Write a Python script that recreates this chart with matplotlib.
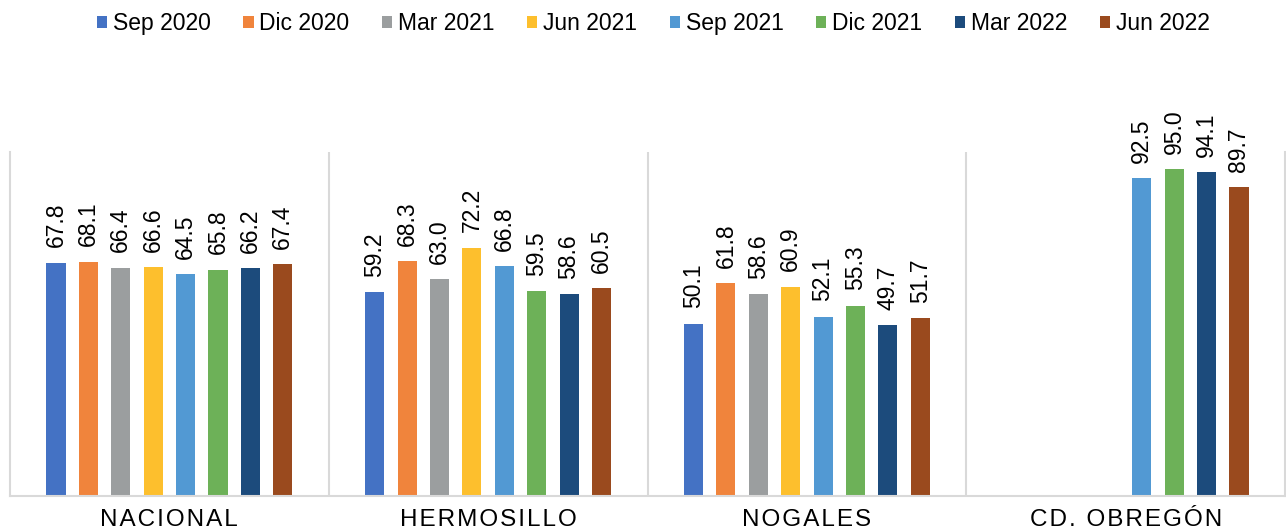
import matplotlib
matplotlib.use("Agg")
import matplotlib.pyplot as plt
import numpy as np

plt.rcParams['font.family'] = ['Liberation Sans', 'DejaVu Sans']

ciudades = ["NACIONAL", "HERMOSILLO", "NOGALES", "CD. OBREGÓN"]
periodos = ["Sep 2020", "Dic 2020", "Mar 2021", "Jun 2021",
            "Sep 2021", "Dic 2021", "Mar 2022", "Jun 2022"]
colores = ["#4472C4", "#F0843C", "#9B9E9F", "#FDBF2D",
           "#5299D3", "#6DB158", "#1C4B7C", "#9A4A1E"]

nacional = [67.8, 68.1, 66.4, 66.6, 64.5, 65.8, 66.2, 67.4]
hermosillo = [59.2, 68.3, 63.0, 72.2, 66.8, 59.5, 58.6, 60.5]
nogales = [50.1, 61.8, 58.6, 60.9, 52.1, 55.3, 49.7, 51.7]
obregon = [np.nan, np.nan, np.nan, np.nan, 92.5, 95.0, 94.1, 89.7]

datos = np.array([nacional, hermosillo, nogales, obregon])

fig = plt.figure(figsize=(12.86, 5.32), dpi=100)
ax = fig.add_axes([10 / 1286, 36 / 532, 1275 / 1286, 344 / 532])

x = np.arange(len(ciudades))
paso = 0.1016
ancho = 0.06
for k, per in enumerate(periodos):
    pos = x + (k - 3.5) * paso
    vals = datos[:, k]
    ax.bar(pos, np.nan_to_num(vals), width=ancho, color=colores[k], label=per)
    for xp, v in zip(pos, vals):
        if np.isnan(v):
            continue
        ax.annotate(f"{v:.1f}", (xp, v), xytext=(0, 11), textcoords="offset points",
                    rotation=90, ha="center", va="bottom", fontsize=16.5)

ax.set_xlim(-0.5, 3.5)
ax.set_ylim(0, 100)
ax.set_yticks([])

# separadores entre ciudades
for s in [0.5, 1.5, 2.5]:
    ax.axvline(s, color="#D9D9D9", lw=1.5, zorder=0)
for lado in ["left", "right", "bottom"]:
    ax.spines[lado].set_color("#D9D9D9")
    ax.spines[lado].set_linewidth(1.5)
ax.spines["top"].set_visible(False)

espaciado = ["\u200a".join(c) for c in ciudades]
ax.set_xticks(x)
ax.set_xticklabels(espaciado, fontsize=17.5)
ax.tick_params(axis="x", length=0, pad=9)

fig.legend(loc="center", bbox_to_anchor=(0.508, 0.955), ncol=8, frameon=False,
           fontsize=16.5, handlelength=0.45, handleheight=0.45,
           handletextpad=0.25, columnspacing=1.42, borderaxespad=0)

fig.savefig("out.png", dpi=100)
